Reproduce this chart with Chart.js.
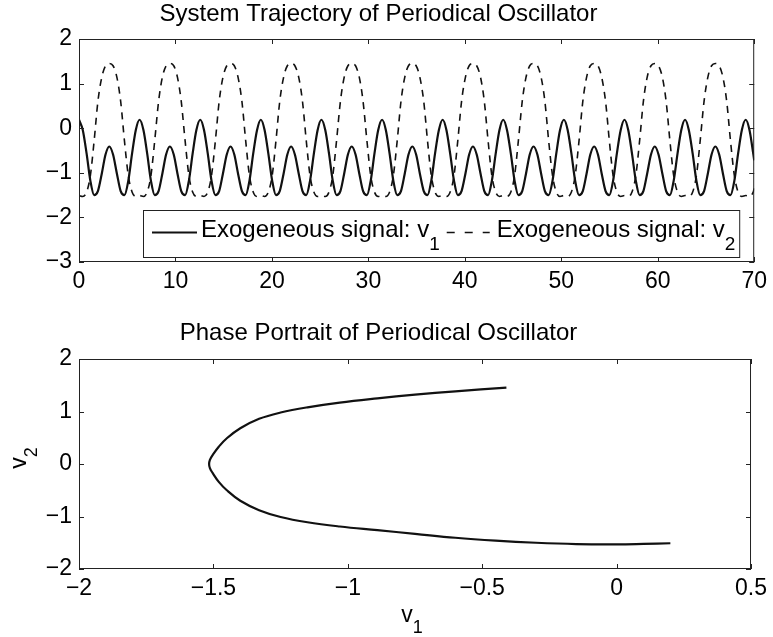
<!DOCTYPE html>
<html><head><meta charset="utf-8">
<script src="https://cdn.jsdelivr.net/npm/chart.js@4.4.1/dist/chart.umd.min.js"></script>
<style>
html,body{margin:0;padding:0;background:#fff;}
#wrap{position:relative;width:773px;height:637px;background:#fff;}
#c1{position:absolute;left:0;top:0;}
#c2{position:absolute;left:0;top:300px;}
</style></head><body>
<div id="wrap">
<canvas id="c1" width="773" height="300"></canvas>
<canvas id="c2" width="773" height="337"></canvas>
</div>
<script>
// ---------- data ----------
const titleTop = 'System Trajectory of Periodical Oscillator';
const titleBottom = 'Phase Portrait of Periodical Oscillator';
const legendNames = ['Exogeneous signal: v', 'Exogeneous signal: v'];
const legendSubs = ['1', '2'];

const time = [0.00,0.39,0.79,1.18,1.57,1.96,2.36,2.75,3.14,3.53,3.93,4.32,4.71,5.11,5.50,5.89,
6.28,6.68,7.07,7.46,7.85,8.25,8.64,9.03,9.42,9.82,10.21,10.60,11.00,11.39,11.78,12.17,
12.57,12.96,13.35,13.74,14.14,14.53,14.92,15.32,15.71,16.10,16.49,16.89,17.28,17.67,18.06,18.46,
18.85,19.24,19.63,20.03,20.42,20.81,21.21,21.60,21.99,22.38,22.78,23.17,23.56,23.95,24.35,24.74,
25.13,25.53,25.92,26.31,26.70,27.10,27.49,27.88,28.27,28.67,29.06,29.45,29.85,30.24,30.63,31.02,
31.42,31.81,32.20,32.59,32.99,33.38,33.77,34.16,34.56,34.95,35.34,35.74,36.13,36.52,36.91,37.31,
37.70,38.09,38.48,38.88,39.27,39.66,40.06,40.45,40.84,41.23,41.63,42.02,42.41,42.80,43.20,43.59,
43.98,44.37,44.77,45.16,45.55,45.95,46.34,46.73,47.12,47.52,47.91,48.30,48.69,49.09,49.48,49.87,
50.27,50.66,51.05,51.44,51.84,52.23,52.62,53.01,53.41,53.80,54.19,54.59,54.98,55.37,55.76,56.16,
56.55,56.94,57.33,57.73,58.12,58.51,58.90,59.30,59.69,60.08,60.48,60.87,61.26,61.65,62.05,62.44,
62.83,63.22,63.62,64.01,64.40,64.80,65.19,65.58,65.97,66.37,66.76,67.15,67.54,67.94,68.33,68.72,
69.12,69.51,69.90,70.00];

const v1 = [0.19,-0.04,-0.57,-1.18,-1.50,-1.41,-1.02,-0.59,-0.41,-0.59,-1.02,-1.41,-1.50,-1.18,-0.57,-0.04,
0.19,-0.04,-0.57,-1.18,-1.50,-1.41,-1.02,-0.59,-0.41,-0.59,-1.02,-1.41,-1.50,-1.18,-0.57,-0.04,
0.19,-0.04,-0.57,-1.18,-1.50,-1.41,-1.02,-0.59,-0.41,-0.59,-1.02,-1.41,-1.50,-1.18,-0.57,-0.04,
0.19,-0.04,-0.57,-1.18,-1.50,-1.41,-1.02,-0.59,-0.41,-0.59,-1.02,-1.41,-1.50,-1.18,-0.57,-0.04,
0.19,-0.04,-0.57,-1.18,-1.50,-1.41,-1.02,-0.59,-0.41,-0.59,-1.02,-1.41,-1.50,-1.18,-0.57,-0.04,
0.19,-0.04,-0.57,-1.18,-1.50,-1.41,-1.02,-0.59,-0.41,-0.59,-1.02,-1.41,-1.50,-1.18,-0.57,-0.04,
0.19,-0.04,-0.57,-1.18,-1.50,-1.41,-1.02,-0.59,-0.41,-0.59,-1.02,-1.41,-1.50,-1.18,-0.57,-0.04,
0.19,-0.04,-0.57,-1.18,-1.50,-1.41,-1.02,-0.59,-0.41,-0.59,-1.02,-1.41,-1.50,-1.18,-0.57,-0.04,
0.19,-0.04,-0.57,-1.18,-1.50,-1.41,-1.02,-0.59,-0.41,-0.59,-1.02,-1.41,-1.50,-1.18,-0.57,-0.04,
0.19,-0.04,-0.57,-1.18,-1.50,-1.41,-1.02,-0.59,-0.41,-0.59,-1.02,-1.41,-1.50,-1.18,-0.57,-0.04,
0.19,-0.04,-0.57,-1.18,-1.50,-1.41,-1.02,-0.59,-0.41,-0.59,-1.02,-1.41,-1.50,-1.18,-0.57,-0.04,
0.19,-0.04,-0.57,-0.72];

const v2 = [-1.51,-1.53,-1.43,-1.06,-0.28,0.60,1.14,1.40,1.45,1.40,1.14,0.60,-0.28,-1.06,-1.43,-1.53,
-1.51,-1.53,-1.43,-1.06,-0.28,0.60,1.14,1.40,1.45,1.40,1.14,0.60,-0.28,-1.06,-1.43,-1.53,
-1.51,-1.53,-1.43,-1.06,-0.28,0.60,1.14,1.40,1.45,1.40,1.14,0.60,-0.28,-1.06,-1.43,-1.53,
-1.51,-1.53,-1.43,-1.06,-0.28,0.60,1.14,1.40,1.45,1.40,1.14,0.60,-0.28,-1.06,-1.43,-1.53,
-1.51,-1.53,-1.43,-1.06,-0.28,0.60,1.14,1.40,1.45,1.40,1.14,0.60,-0.28,-1.06,-1.43,-1.53,
-1.51,-1.53,-1.43,-1.06,-0.28,0.60,1.14,1.40,1.45,1.40,1.14,0.60,-0.28,-1.06,-1.43,-1.53,
-1.51,-1.53,-1.43,-1.06,-0.28,0.60,1.14,1.40,1.45,1.40,1.14,0.60,-0.28,-1.06,-1.43,-1.53,
-1.51,-1.53,-1.43,-1.06,-0.28,0.60,1.14,1.40,1.45,1.40,1.14,0.60,-0.28,-1.06,-1.43,-1.53,
-1.51,-1.53,-1.43,-1.06,-0.28,0.60,1.14,1.40,1.45,1.40,1.14,0.60,-0.28,-1.06,-1.43,-1.53,
-1.51,-1.53,-1.43,-1.06,-0.28,0.60,1.14,1.40,1.45,1.40,1.14,0.60,-0.28,-1.06,-1.43,-1.53,
-1.51,-1.53,-1.43,-1.06,-0.28,0.60,1.14,1.40,1.45,1.40,1.14,0.60,-0.28,-1.06,-1.43,-1.53,
-1.51,-1.53,-1.43,-1.35];

// phase portrait, traced from the upper end (v1=-0.41) round the vertex to the lower end (v1=0.2)
const phaseV1 = [-0.41,-0.60,-0.75,-0.89,-1.03,-1.15,-1.25,-1.33,-1.40,-1.45,-1.48,-1.503,-1.513,-1.516,
-1.513,-1.503,-1.48,-1.45,-1.40,-1.33,-1.25,-1.15,-1.03,-0.89,-0.75,-0.60,-0.45,-0.30,-0.15,0.00,0.10,0.20];
const phaseV2 = [1.455,1.385,1.32,1.25,1.17,1.08,0.98,0.86,0.68,0.49,0.33,0.17,0.08,0.00,
-0.08,-0.17,-0.34,-0.50,-0.70,-0.88,-1.01,-1.11,-1.19,-1.26,-1.33,-1.405,-1.46,-1.50,-1.525,-1.53,-1.522,-1.51];

const topXTicks = {min: 0, max: 70, step: 10};
const topYTicks = {min: -3, max: 2, step: 1};
const botXTicks = {min: -2, max: 0.5, step: 0.5};
const botYTicks = {min: -2, max: 2, step: 1};

// ---------- styling ----------
const FAM = "'Liberation Sans', Arial, Helvetica, sans-serif";
const INK = '#111';
function fmt(v){ const r = Math.round(v*10)/10; return String(r).replace('-', '\u2212'); }

const framePlugin = {
  id: 'frame',
  afterDraw(chart) {
    const {ctx, chartArea: a, scales} = chart;
    ctx.save();
    ctx.strokeStyle = '#222'; ctx.lineWidth = 1;
    ctx.strokeRect(a.left + 0.5, a.top + 0.5, a.right - a.left - 1, a.bottom - a.top - 1);
    const L = 5;
    ctx.beginPath();
    scales.x.ticks.forEach(t => {
      const px = Math.round(scales.x.getPixelForValue(t.value)) + 0.5;
      ctx.moveTo(px, a.bottom); ctx.lineTo(px, a.bottom - L);
      ctx.moveTo(px, a.top); ctx.lineTo(px, a.top + L);
    });
    scales.y.ticks.forEach(t => {
      const py = Math.round(scales.y.getPixelForValue(t.value)) + 0.5;
      ctx.moveTo(a.left, py); ctx.lineTo(a.left + L, py);
      ctx.moveTo(a.right, py); ctx.lineTo(a.right - L, py);
    });
    ctx.stroke();
    ctx.restore();
  }
};

const legendPlugin = {
  id: 'oscLegend',
  afterDatasetsDraw(chart) {
    const {ctx, chartArea: a} = chart;
    const left = a.left + 64, right = a.right - 15, top = a.bottom - 52, bottom = a.bottom - 5;
    ctx.save();
    ctx.fillStyle = '#fff';
    ctx.fillRect(left, top, right - left, bottom - top);
    ctx.strokeStyle = '#222'; ctx.lineWidth = 1;
    ctx.strokeRect(left + 0.5, top + 0.5, right - left, bottom - top);
    const midY = top + 22.5, base = top + 27;
    let x = left + 9;
    ctx.strokeStyle = INK; ctx.lineWidth = 2.2;
    ctx.beginPath(); ctx.moveTo(x, midY); ctx.lineTo(x + 45, midY); ctx.stroke();
    x = left + 58;
    ctx.fillStyle = '#000'; ctx.textAlign = 'left'; ctx.textBaseline = 'alphabetic';
    for (let i = 0; i < 2; i++) {
      ctx.font = '24px ' + FAM;
      ctx.fillText(legendNames[i], x, base);
      x += ctx.measureText(legendNames[i]).width;
      ctx.font = '19px ' + FAM;
      ctx.fillText(legendSubs[i], x, base + 13);
      x += ctx.measureText(legendSubs[i]).width;
      if (i === 0) {
        x += 7;
        ctx.save();
        ctx.strokeStyle = INK; ctx.lineWidth = 1.6; ctx.setLineDash([8, 10]);
        ctx.beginPath(); ctx.moveTo(x, midY); ctx.lineTo(x + 43, midY); ctx.stroke();
        ctx.restore();
        x += 50;
      }
    }
    ctx.restore();
  }
};

const axisLabelPlugin = {
  id: 'axisLabels',
  afterDraw(chart) {
    const {ctx, chartArea: a} = chart;
    ctx.save();
    ctx.fillStyle = '#000'; ctx.textBaseline = 'alphabetic'; ctx.textAlign = 'left';
    ctx.font = '23px ' + FAM;
    const wv = ctx.measureText('v').width;
    ctx.font = '18px ' + FAM;
    const w1 = ctx.measureText('1').width;
    let x0 = (a.left + a.right) / 2 - (wv + w1) / 2 - 3;
    const bx = a.bottom + 53;
    ctx.font = '23px ' + FAM; ctx.fillText('v', x0, bx);
    ctx.font = '18px ' + FAM; ctx.fillText('1', x0 + wv, bx + 11);
    ctx.save();
    ctx.translate(26, (a.top + a.bottom) / 2 + (wv + w1) / 2 - 6);
    ctx.rotate(-Math.PI / 2);
    ctx.font = '23px ' + FAM; ctx.fillText('v', 0, 0);
    ctx.font = '18px ' + FAM; ctx.fillText('2', wv, 11);
    ctx.restore();
    ctx.restore();
  }
};

function scaleOpts(t, fit, isX) {
  return {
    type: 'linear', min: t.min, max: t.max,
    grid: {display: false, drawTicks: false}, border: {display: false},
    ticks: {stepSize: t.step, color: '#000', padding: isX ? 6 : 7,
      font: {family: FAM, size: 23}, callback: fmt, autoSkip: false, maxRotation: 0},
    afterFit: fit
  };
}

// ---------- top chart ----------
new Chart(document.getElementById('c1'), {
  type: 'line',
  data: {
    datasets: [
      {label: legendNames[0] + legendSubs[0], data: time.map((t, i) => ({x: t, y: v1[i]})),
       borderColor: INK, borderWidth: 2.2, pointRadius: 0, cubicInterpolationMode: 'monotone', fill: false},
      {label: legendNames[1] + legendSubs[1], data: time.map((t, i) => ({x: t, y: v2[i]})),
       borderColor: INK, borderWidth: 1.6, borderDash: [7, 6], pointRadius: 0, cubicInterpolationMode: 'monotone', fill: false}
    ]
  },
  options: {
    responsive: false, animation: false, devicePixelRatio: 1,
    layout: {padding: {left: 0, right: 16, top: 0, bottom: 0}},
    plugins: {
      legend: {display: false}, tooltip: {enabled: false},
      title: {display: true, text: titleTop, color: '#000', font: {family: FAM, size: 24, weight: 'normal'},
        padding: {top: 0, bottom: 10.2}}
    },
    scales: {
      x: scaleOpts(topXTicks, s => { s.height = 38; }, true),
      y: scaleOpts(topYTicks, s => { s.width = 79; }, false)
    }
  },
  plugins: [legendPlugin, framePlugin]
});

// ---------- bottom chart ----------
new Chart(document.getElementById('c2'), {
  type: 'scatter',
  data: {
    datasets: [
      {label: 'phase', data: phaseV1.map((x, i) => ({x: x, y: phaseV2[i]})), showLine: true,
       borderColor: INK, borderWidth: 2.2, pointRadius: 0, tension: 0.4, fill: false}
    ]
  },
  options: {
    responsive: false, animation: false, devicePixelRatio: 1,
    layout: {padding: {left: 0, right: 16, top: 0, bottom: 0}},
    plugins: {
      legend: {display: false}, tooltip: {enabled: false},
      title: {display: true, text: titleBottom, color: '#000', font: {family: FAM, size: 24, weight: 'normal'},
        padding: {top: 18.6, bottom: 11.6}}
    },
    scales: {
      x: scaleOpts(botXTicks, s => { s.height = 68; }, true),
      y: scaleOpts(botYTicks, s => { s.width = 79; }, false)
    }
  },
  plugins: [framePlugin, axisLabelPlugin]
});
</script>
</body></html>
